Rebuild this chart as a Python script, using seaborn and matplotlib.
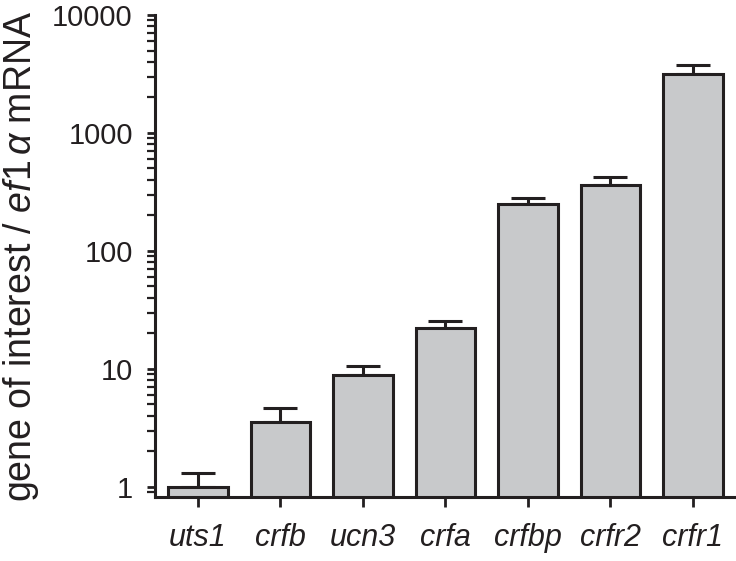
import numpy as np
import pandas as pd
import seaborn as sns
import matplotlib.pyplot as plt

genes = ["uts1", "crfb", "ucn3", "crfa", "crfbp", "crfr2", "crfr1"]
means = [1.0, 3.55, 8.8, 22.1, 250, 362, 3160]
upper = [1.31, 4.67, 10.5, 25.4, 281, 424, 3770]

sns.set_style("ticks")
plt.rcParams['font.family'] = ['Liberation Sans', 'DejaVu Sans']
plt.rcParams['mathtext.fontset'] = 'custom'
plt.rcParams['mathtext.it'] = 'Liberation Sans:italic'
plt.rcParams['mathtext.rm'] = 'Liberation Sans'

df = pd.DataFrame({"gene": genes, "value": means})

fig = plt.figure(figsize=(7.36, 5.61), dpi=100)
ax = fig.add_axes([155 / 736, 1 - 497 / 561, (735 - 155) / 736, (497 - 15) / 561])

sns.barplot(data=df, x="gene", y="value", color="#c8c9cb", edgecolor="#231f20",
            linewidth=2.2, width=0.72, saturation=1, ax=ax, zorder=2)
err = np.array(upper) - np.array(means)
ax.errorbar(np.arange(len(genes)), means, yerr=[np.zeros(len(genes)), err],
            fmt="none", ecolor="#231f20", elinewidth=2.2, capsize=12, capthick=2.2, zorder=1)

ax.set_yscale("log")
ax.set_ylim(0.82, 10000)
ax.set_xlim(-0.52, 6.51)
ax.set_yticks([1, 10, 100, 1000, 10000])
ax.set_yticklabels(["1", "10", "100", "1000", "10000"])

for s in ["top", "right"]:
    ax.spines[s].set_visible(False)
for s in ["left", "bottom"]:
    ax.spines[s].set_linewidth(2.2)
    ax.spines[s].set_color("#231f20")

ax.tick_params(axis="y", which="major", length=6, width=2, labelsize=21, pad=10, colors="#231f20")
ax.tick_params(axis="y", which="minor", length=6, width=1.6, colors="#231f20")
ax.tick_params(axis="x", length=7, width=2, labelsize=22, pad=12, colors="#231f20")
for lab in ax.get_xticklabels():
    lab.set_fontstyle("italic")

ax.set_xlabel("")
ax.set_ylabel(r"gene of interest / $\mathit{ef1}\,\alpha$ mRNA", fontsize=27, color="#231f20", labelpad=8)

fig.savefig("out.png", dpi=100)
